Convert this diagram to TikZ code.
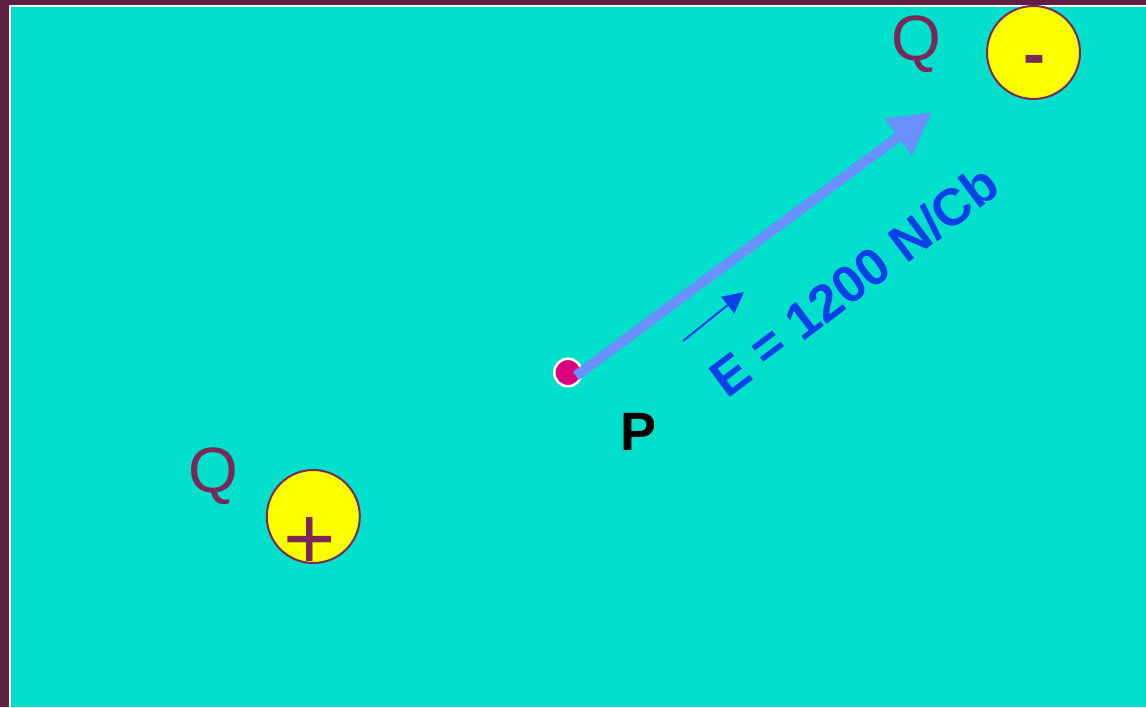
\documentclass[tikz,border=0pt]{standalone}
\usepackage{fontspec}
\setmainfont{Liberation Sans}
\usetikzlibrary{arrows.meta}
\definecolor{framepurple}{HTML}{5E1F42}
\definecolor{bgteal}{HTML}{00DFCC}
\definecolor{qpurple}{HTML}{7A2858}
\definecolor{chargeyellow}{HTML}{FCFF00}
\definecolor{fieldblue}{HTML}{6A8FFF}
\definecolor{labelblue}{HTML}{0A40E8}
\definecolor{dotmagenta}{HTML}{DA0080}
\tikzset{
  charge/.style={circle, draw=qpurple, line width=2pt, fill=chargeyellow, minimum size=93pt, inner sep=0pt},
  qlabel/.style={anchor=base, inner sep=0pt, text=qpurple, font=\fontsize{64}{70}\selectfont},
  signlabel/.style={anchor=base, inner sep=0pt, text=qpurple},
  pointdot/.style={circle, draw=white, line width=2.5pt, fill=dotmagenta, minimum size=27.5pt, inner sep=0pt},
  fieldarrow/.style={draw=fieldblue, line width=10pt, -{Triangle[length=42pt,width=43pt]}},
  unitarrow/.style={draw=labelblue, line width=2pt, -{Triangle[length=21pt,width=21pt]}},
}
\begin{document}
\begin{tikzpicture}[x=1pt,y=-1pt]
\fill[framepurple] (0,0) rectangle (1146,707);
\fill[white] (9,5) rectangle (1146,707);
\fill[bgteal] (11,7) rectangle (1146,707);
\useasboundingbox (0,0) rectangle (1146,707);

% negative charge
\node[charge] (qneg) at (1033.5,52.5) {};
\node[signlabel, font=\bfseries\fontsize{66}{70}\selectfont] (minus) at (1034.5,76) {-};
\node[qlabel] (qtop) at (916.5,60) {Q};

% positive charge
\node[charge] (qpos) at (313.3,516.5) {};
\node[signlabel, font=\fontsize{90}{96}\selectfont] (plus) at (310,569) {+};
\node[qlabel] (qbot) at (213.5,492) {Q};

% point P
\node[pointdot] (pdot) at (568,372.5) {};
\node[anchor=base, inner sep=0pt, font=\bfseries\fontsize{54}{60}\selectfont] (plabel) at (639,450) {P};

% field vector
\coordinate (estart) at (576,376);
\coordinate (etip) at (932,112);
\draw[fieldarrow] (estart) -- (etip);

% small direction arrow
\coordinate (ustart) at (683,341);
\coordinate (utip) at (744,292);
\draw[unitarrow] (ustart) -- (utip);

% label
\node[anchor=base west, inner sep=0pt, rotate=37, text=labelblue, font=\bfseries\fontsize{52}{60}\selectfont] (elabel) at (727,399.3) {E = 1200 N/Cb};
\end{tikzpicture}
\end{document}
